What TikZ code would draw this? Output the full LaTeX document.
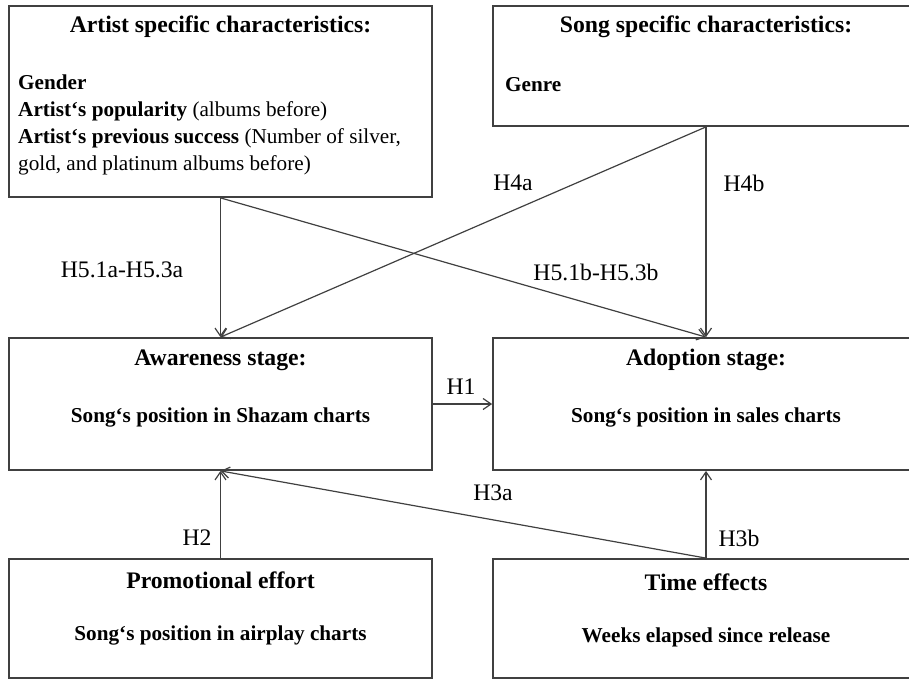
\documentclass[tikz,border=0pt]{standalone}
\usepackage{fontspec}
\setmainfont{Liberation Serif}
\usetikzlibrary{positioning, arrows.meta}

\tikzset{
  stagebox/.style={draw=black!75, line width=1.8pt, minimum width=423pt, inner sep=0pt},
  link/.style={draw=black!75, line width=1.2pt, -{Straight Barb[length=8pt, width=11pt]}},
  hyp/.style={font=\fontsize{23.7}{27}\selectfont},
  headtxt/.style={font=\fontsize{23.7}{27}\selectfont\bfseries},
  bodytxt/.style={font=\fontsize{21.2}{27}\selectfont\bfseries},
}

\begin{document}
\begin{tikzpicture}[x=1pt, y=-1pt]

\useasboundingbox (0, 0) rectangle (909, 680);

% --- Boxes ---
\node[stagebox, minimum height=191pt] (artist) at (220.5, 101.5) {};
\node[stagebox, minimum width=426pt, minimum height=120pt] (song) at (706, 66) {};
\node[stagebox, minimum height=132pt] (aware) at (220.5, 404) {};
\node[stagebox, minimum width=426pt, minimum height=132pt] (adopt) at (706, 404) {};
\node[stagebox, minimum height=119pt] (promo) at (220.5, 618.5) {};
\node[stagebox, minimum width=426pt, minimum height=119pt] (time) at (706, 618.5) {};

% --- Box texts ---
\node[headtxt] (artisthead) at (220.5, 27) {Artist specific characteristics:};
\node[bodytxt, anchor=north west, align=left, inner sep=0pt] (artistbody) at (18, 75)
  {Gender\\
   Artist‘s popularity {\mdseries (albums before)}\\
   Artist‘s previous success {\mdseries (Number of silver,}\\
   {\mdseries gold, and platinum albums before)}};

\node[headtxt] (songhead) at (706, 27) {Song specific characteristics:};
\node[bodytxt, anchor=west, inner sep=0pt] (songbody) at (505, 85) {Genre};

\node[headtxt] (awarehead) at (220.5, 360) {Awareness stage:};
\node[bodytxt] (awarebody) at (220.5, 417) {Song‘s position in Shazam charts};

\node[headtxt] (adopthead) at (706, 360) {Adoption stage:};
\node[bodytxt] (adoptbody) at (706, 417) {Song‘s position in sales charts};

\node[headtxt] (promohead) at (220.5, 580) {Promotional effort};
\node[bodytxt] (promobody) at (220.5, 635) {Song‘s position in airplay charts};

\node[headtxt] (timehead) at (706, 582) {Time effects};
\node[bodytxt] (timebody) at (706, 637) {Weeks elapsed since release};

% --- Paths ---
\draw[link] (artist.south) -- (aware.north);
\draw[link] (artist.south) -- (adopt.north);
\draw[link] (song.south) -- (aware.north);
\draw[link] (song.south) -- (adopt.north);
\draw[link] (aware.east) -- (adopt.west);
\draw[link] (promo.north) -- (aware.south);
\draw[link] (time.north) -- (aware.south);
\draw[link] (time.north) -- (adopt.south);

% --- Hypotheses ---
\node[hyp] (h51a) at (122, 270) {H5.1a-H5.3a};
\node[hyp] (h51b) at (596, 272) {H5.1b-H5.3b};
\node[hyp] (h4a) at (513, 183) {H4a};
\node[hyp] (h4b) at (744, 183) {H4b};
\node[hyp] (h1) at (461, 387) {H1};
\node[hyp] (h3a) at (493, 493) {H3a};
\node[hyp] (h2) at (197, 538) {H2};
\node[hyp] (h3b) at (739, 538) {H3b};

\end{tikzpicture}
\end{document}
